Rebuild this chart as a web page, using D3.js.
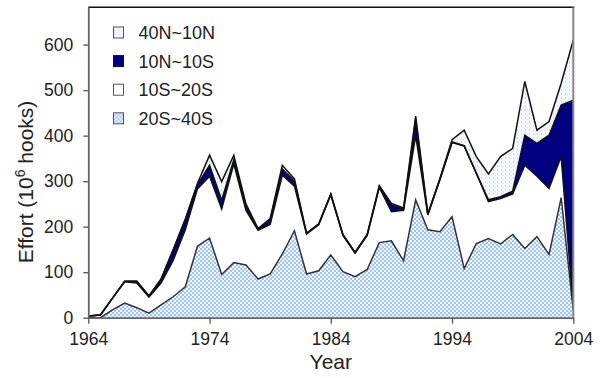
<!DOCTYPE html>
<html><head><meta charset="utf-8">
<script src="https://cdn.jsdelivr.net/npm/d3@7/dist/d3.min.js"></script>
<style>body{margin:0;background:#fff}svg{display:block}</style>
</head><body><svg id="c" width="600" height="378"></svg>
<script>
const years = [1964,1965,1966,1967,1968,1969,1970,1971,1972,1973,1974,1975,1976,1977,1978,1979,1980,1981,1982,1983,1984,1985,1986,1987,1988,1989,1990,1991,1992,1993,1994,1995,1996,1997,1998,1999,2000,2001,2002,2003,2004];
const s20S40S = [0,0,17,32,22,10,28,46,68,157,175,95,121,116,85,96,140,191,96,103,138,101,90,106,165,169,125,259,193,189,222,108,163,174,162,183,152,178,139,264,15];
const s10S20S = [4,6,26,47,54,35,48,80,125,126,136,144,217,120,107,109,173,98,88,101,132,80,52,75,121,64,111,141,33,114,163,269,154,81,100,89,183,133,145,90,5];
const s10N10S = [0,0,0,1,4,2,8,22,22,9,24,19,9,10,2,10,14,11,1,1,1,1,1,1,3,15,3,35,1,1,1,1,1,4,4,6,66,72,117,113,458];
const s40N10N = [0,0,0,0,0,1,1,2,2,3,22,41,10,4,2,3,8,5,1,1,1,1,1,1,1,3,2,8,1,2,5,34,36,57,88,94,118,29,30,48,132];
const stackKeys = ["20S~40S","10S~20S","10N~10S","40N~10N"];
const legendLabels = ["40N~10N","10N~10S","10S~20S","20S~40S"];
const xTicks = [1964,1974,1984,1994,2004];
const yTicks = [0,100,200,300,400,500,600];

const table = years.map((yr,i)=>({year:yr,"20S~40S":s20S40S[i],"10S~20S":s10S20S[i],"10N~10S":s10N10S[i],"40N~10N":s40N10N[i]}));

const svg = d3.select("#c");
const X0 = 88.3, X1 = 573.3, Y0 = 317.7, Y1 = 7.3;
const x = d3.scaleLinear().domain([1964,2004]).range([X0,X1]);
const y = d3.scaleLinear().domain([0,682]).range([Y0,Y1]);

const defs = svg.append("defs");
const pS = defs.append("pattern").attr("id","patS").attr("patternUnits","userSpaceOnUse").attr("width",4).attr("height",4);
pS.append("rect").attr("width",4).attr("height",4).attr("fill","#f2f7fe");
pS.append("rect").attr("x",0).attr("y",0).attr("width",2).attr("height",2).attr("fill","#9ec5f5");
pS.append("rect").attr("x",2).attr("y",2).attr("width",2).attr("height",2).attr("fill","#9ec5f5");
const pT = defs.append("pattern").attr("id","patT").attr("patternUnits","userSpaceOnUse").attr("width",4).attr("height",4);
pT.append("rect").attr("width",4).attr("height",4).attr("fill","#f5f9fe");
pT.append("rect").attr("x",1).attr("y",1).attr("width",1).attr("height",2).attr("fill","#c4dcf8");
pT.append("rect").attr("x",3).attr("y",3).attr("width",1).attr("height",1).attr("fill","#e0edfc");

const fills = {"20S~40S":"url(#patS)","10S~20S":"#ffffff","10N~10S":"#000080","40N~10N":"url(#patT)"};

const stacked = d3.stack().keys(stackKeys)(table);
const area = d3.area().x(d=>x(d.data.year)).y0(d=>y(d[0])).y1(d=>y(d[1]));
const line = d3.line().x(d=>x(d.data.year)).y(d=>y(d[1]));

svg.append("g").selectAll("path").data(stacked).join("path")
  .attr("d",area).attr("fill",d=>fills[d.key]).attr("stroke","none");
svg.append("g").selectAll("path").data(stacked).join("path")
  .attr("d",line).attr("fill","none").attr("stroke",(d,i)=>i===0?"#333":"#111").attr("stroke-width",1.5).attr("stroke-linejoin","miter");

// frame
svg.append("line").attr("x1",X0).attr("x2",X1+1).attr("y1",Y1).attr("y2",Y1).attr("stroke","#111").attr("stroke-width",1.6);
svg.append("line").attr("x1",X1).attr("x2",X1).attr("y1",Y1).attr("y2",Y0).attr("stroke","#888").attr("stroke-width",2);

// axes
const gy = svg.append("g").attr("transform",`translate(${X0},0)`)
  .call(d3.axisLeft(y).tickValues(yTicks).tickSize(5).tickPadding(10).tickSizeOuter(0));
const gx = svg.append("g").attr("transform",`translate(0,${Y0})`)
  .call(d3.axisBottom(x).tickValues(xTicks).tickFormat(d3.format("d")).tickSize(6).tickPadding(9).tickSizeOuter(0));
[gx,gy].forEach(g=>{
  g.select(".domain").attr("stroke","#666").attr("stroke-width",1.8);
  g.selectAll(".tick line").attr("stroke","#555").attr("stroke-width",1.3);
  g.selectAll("text").attr("fill","#222").attr("font-family","Liberation Sans, Arial, sans-serif").attr("font-size",17.5);
});

// titles
svg.append("text").attr("x",(X0+X1)/2).attr("y",369).attr("text-anchor","middle")
  .attr("font-family","Liberation Sans, Arial, sans-serif").attr("font-size",21).attr("fill","#222").text("Year");
const yt = svg.append("text").attr("transform","translate(33,182) rotate(-90)").attr("text-anchor","middle")
  .attr("font-family","Liberation Sans, Arial, sans-serif").attr("font-size",21).attr("fill","#222");
yt.append("tspan").text("Effort (10");
yt.append("tspan").attr("font-size",14).attr("dy",-8).text("6");
yt.append("tspan").attr("dy",8).text(" hooks)");

// legend
const lg = svg.append("g");
const rows = lg.selectAll("g").data(legendLabels).join("g")
  .attr("transform",(d,i)=>`translate(113.5,${32.5+i*28.6})`);
rows.append("rect").attr("x",0).attr("y",-5.5).attr("width",10).attr("height",11)
  .attr("fill",d=>fills[d]).attr("stroke",d=>d==="10N~10S"?"#111":"#555").attr("stroke-width",1);
rows.append("text").attr("x",25).attr("y",6.5)
  .attr("font-family","Liberation Sans, Arial, sans-serif").attr("font-size",18).attr("fill","#222").text(d=>d);
</script></body></html>
